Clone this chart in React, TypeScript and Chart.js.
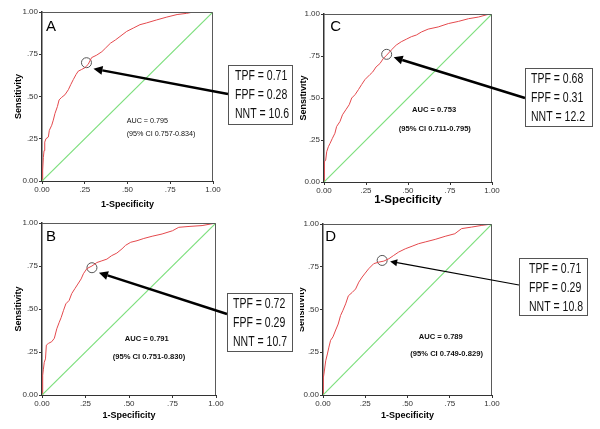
import React, { useEffect, useRef } from "react";
import { Chart, registerables } from "chart.js";

Chart.register(...registerables);

const FONT = "'Liberation Sans', Arial, Helvetica, sans-serif";

// Shared axis ticks
const TICK_VALUES = [0, 0.25, 0.5, 0.75, 1];
const TICK_LABELS = ["0.00", ".25", ".50", ".75", "1.00"];

// Reference (chance) line
const DIAG_X = [0, 1];
const DIAG_Y = [0, 1];

// Panel A
const A_FPF = [0, 0.004, 0.008, 0.012, 0.016, 0.023, 0.037, 0.043, 0.057, 0.066, 0.076, 0.09, 0.1, 0.115, 0.134, 0.154, 0.168, 0.183, 0.199, 0.212, 0.232, 0.25, 0.27, 0.29, 0.32, 0.35, 0.37, 0.4, 0.43, 0.456, 0.495, 0.534, 0.573, 0.61, 0.67, 0.73, 0.79, 0.846, 0.885, 1.0];
const A_TPF = [0, 0.065, 0.14, 0.18, 0.23, 0.25, 0.26, 0.3, 0.33, 0.36, 0.4, 0.44, 0.48, 0.495, 0.51, 0.54, 0.57, 0.6, 0.63, 0.65, 0.66, 0.67, 0.69, 0.73, 0.745, 0.765, 0.785, 0.815, 0.835, 0.855, 0.885, 0.905, 0.925, 0.935, 0.953, 0.97, 0.985, 0.992, 1.0, 1.0];
const A_OP = [0.26, 0.7];
const A_BOX = ["TPF = 0.71", "FPF = 0.28", "NNT = 10.6"];
const A_AUC = ["AUC = 0.795", "(95% CI 0.757-0.834)"];

// Panel C
const C_FPF = [0, 0.002, 0.01, 0.016, 0.026, 0.036, 0.05, 0.065, 0.075, 0.095, 0.11, 0.13, 0.15, 0.165, 0.185, 0.205, 0.224, 0.244, 0.274, 0.29, 0.31, 0.333, 0.353, 0.373, 0.4, 0.43, 0.46, 0.49, 0.52, 0.55, 0.58, 0.62, 0.68, 0.74, 0.8, 0.86, 0.92, 0.97, 1.0];
const C_TPF = [0, 0.12, 0.13, 0.18, 0.21, 0.23, 0.26, 0.29, 0.33, 0.36, 0.4, 0.43, 0.46, 0.5, 0.52, 0.55, 0.58, 0.61, 0.64, 0.655, 0.685, 0.705, 0.735, 0.755, 0.785, 0.815, 0.835, 0.85, 0.865, 0.875, 0.893, 0.91, 0.923, 0.943, 0.956, 0.972, 0.982, 0.996, 1.0];
const C_OP = [0.373, 0.76];
const C_BOX = ["TPF = 0.68", "FPF = 0.31", "NNT = 12.2"];
const C_AUC = ["AUC = 0.753", "(95% CI 0.711-0.795)"];

// Panel B
const B_FPF = [0, 0.004, 0.008, 0.013, 0.02, 0.025, 0.037, 0.056, 0.071, 0.085, 0.098, 0.11, 0.123, 0.137, 0.156, 0.171, 0.19, 0.206, 0.225, 0.238, 0.258, 0.287, 0.315, 0.344, 0.373, 0.4, 0.43, 0.46, 0.48, 0.51, 0.546, 0.585, 0.633, 0.69, 0.75, 0.786, 0.845, 0.92, 1.0];
const B_TPF = [0, 0.115, 0.15, 0.19, 0.21, 0.29, 0.3, 0.31, 0.33, 0.385, 0.42, 0.45, 0.49, 0.53, 0.55, 0.59, 0.62, 0.645, 0.675, 0.705, 0.735, 0.75, 0.77, 0.78, 0.79, 0.81, 0.825, 0.85, 0.87, 0.888, 0.897, 0.91, 0.923, 0.936, 0.955, 0.975, 0.98, 0.985, 1.0];
const B_OP = [0.287, 0.74];
const B_BOX = ["TPF = 0.72", "FPF = 0.29", "NNT = 10.7"];
const B_AUC = ["AUC = 0.791", "(95% CI 0.751-0.830)"];

// Panel D
const D_FPF = [0, 0.002, 0.008, 0.016, 0.026, 0.035, 0.045, 0.059, 0.075, 0.09, 0.104, 0.118, 0.134, 0.15, 0.173, 0.193, 0.212, 0.232, 0.25, 0.27, 0.3, 0.33, 0.36, 0.39, 0.418, 0.448, 0.487, 0.527, 0.566, 0.605, 0.664, 0.723, 0.78, 0.82, 0.88, 0.94, 1.0];
const D_TPF = [0, 0.1, 0.14, 0.2, 0.24, 0.28, 0.32, 0.34, 0.38, 0.415, 0.465, 0.495, 0.533, 0.58, 0.6, 0.62, 0.66, 0.69, 0.713, 0.738, 0.768, 0.777, 0.783, 0.797, 0.816, 0.836, 0.855, 0.87, 0.885, 0.895, 0.91, 0.928, 0.943, 0.973, 0.982, 0.992, 1.0];
const D_OP = [0.35, 0.787];
const D_BOX = ["TPF = 0.71", "FPF = 0.29", "NNT = 10.8"];
const D_AUC = ["AUC = 0.789", "(95% CI 0.749-0.829)"];

type Panel = {
  letter: string;
  pos: [number, number, number, number];
  area: [number, number, number, number];
  fpf: number[];
  tpf: number[];
  op: number[];
  box: string[];
  auc: string[];
  letterOff: [number, number];
  aucWeight: string;
  aucSize: number;
  aucPos: [number, number][];
  boxRect: [number, number, number, number];
  textPad: number;
  tailDy: number;
  tipOff: [number, number];
  arrowW: number;
  head: [number, number];
  yTitlePad: number;
  xTitlePad: number;
  xTitleSize: number;
};

const PANELS: Panel[] = [
  {
    letter: "A", pos: [0, 0, 300, 215], area: [42, 12, 213, 181],
    fpf: A_FPF, tpf: A_TPF, op: A_OP, box: A_BOX, auc: A_AUC,
    letterOff: [4, 18.7], aucWeight: "normal", aucSize: 7.2,
    aucPos: [[126.7, 120.7], [126.7, 133.7]],
    boxRect: [228, 65, 64, 59], textPad: 7, tailDy: 29, tipOff: [7, 6],
    arrowW: 2.4, head: [9, 4.5], yTitlePad: 13.6, xTitlePad: 4.6, xTitleSize: 9,
  },
  {
    letter: "C", pos: [300, 0, 300, 215], area: [24, 14, 192, 182],
    fpf: C_FPF, tpf: C_TPF, op: C_OP, box: C_BOX, auc: C_AUC,
    letterOff: [6.3, 16.5], aucWeight: "bold", aucSize: 7.6,
    aucPos: [[112, 110.3], [98.7, 129.3]],
    boxRect: [225, 68, 67, 58], textPad: 6, tailDy: 30, tipOff: [7, 3],
    arrowW: 2.4, head: [9, 4.5], yTitlePad: -1.4, xTitlePad: 8.4, xTitleSize: 11.5,
  },
  {
    letter: "B", pos: [0, 215, 300, 214], area: [42, 8, 216, 180],
    fpf: B_FPF, tpf: B_TPF, op: B_OP, box: B_BOX, auc: B_AUC,
    letterOff: [4, 18], aucWeight: "bold", aucSize: 7.6,
    aucPos: [[124.7, 124.3], [112.7, 142]],
    boxRect: [227, 78, 65, 58], textPad: 6, tailDy: 21, tipOff: [7, 5],
    arrowW: 2.4, head: [9, 4.5], yTitlePad: 13.6, xTitlePad: 7.6, xTitleSize: 9,
  },
  {
    letter: "D", pos: [300, 215, 300, 214], area: [23, 9, 192, 180],
    fpf: D_FPF, tpf: D_TPF, op: D_OP, box: D_BOX, auc: D_AUC,
    letterOff: [2.3, 17.3], aucWeight: "bold", aucSize: 7.6,
    aucPos: [[118.7, 122.3], [110.3, 139]],
    boxRect: [219, 43, 68, 57], textPad: 10, tailDy: 27, tipOff: [8, 1],
    arrowW: 1.2, head: [7, 3.5], yTitlePad: -3.4, xTitlePad: 7.6, xTitleSize: 9,
  },
];

function annotationPlugin(p: Panel) {
  return {
    id: "annot" + p.letter,
    afterDraw(chart: any) {
      const { ctx, chartArea: ca, scales } = chart;
      ctx.save();
      ctx.strokeStyle = "#5a5a5a";
      ctx.lineWidth = 1;
      ctx.beginPath();
      ctx.moveTo(ca.left, ca.top + 0.5);
      ctx.lineTo(ca.right - 0.5, ca.top + 0.5);
      ctx.lineTo(ca.right - 0.5, ca.bottom);
      ctx.stroke();

      ctx.fillStyle = "#000";
      ctx.textAlign = "left";
      ctx.textBaseline = "alphabetic";
      ctx.font = `15px ${FONT}`;
      ctx.fillText(p.letter, ca.left + p.letterOff[0], ca.top + p.letterOff[1]);

      ctx.font = `${p.aucWeight} ${p.aucSize}px ${FONT}`;
      ctx.textBaseline = "middle";
      ctx.fillStyle = "#111";
      p.auc.forEach((t, i) => ctx.fillText(t, p.aucPos[i][0], p.aucPos[i][1]));

      const cx = scales.x.getPixelForValue(p.op[0]);
      const cy = scales.y.getPixelForValue(p.op[1]);
      const tipX = cx + p.tipOff[0];
      const tipY = cy + p.tipOff[1];
      const [bx, by, bw, bh] = p.boxRect;
      const tailX = bx;
      const tailY = by + p.tailDy;
      const ang = Math.atan2(tipY - tailY, tipX - tailX);
      const [hl, hw] = p.head;
      const baseX = tipX - hl * Math.cos(ang);
      const baseY = tipY - hl * Math.sin(ang);
      ctx.strokeStyle = "#000";
      ctx.fillStyle = "#000";
      ctx.lineWidth = p.arrowW;
      ctx.beginPath();
      ctx.moveTo(tailX, tailY);
      ctx.lineTo(baseX, baseY);
      ctx.stroke();
      ctx.beginPath();
      ctx.moveTo(tipX, tipY);
      ctx.lineTo(baseX - hw * Math.sin(ang), baseY + hw * Math.cos(ang));
      ctx.lineTo(baseX + hw * Math.sin(ang), baseY - hw * Math.cos(ang));
      ctx.closePath();
      ctx.fill();

      ctx.fillStyle = "#fff";
      ctx.fillRect(bx, by, bw, bh);
      ctx.strokeStyle = "#555";
      ctx.lineWidth = 1;
      ctx.strokeRect(bx + 0.5, by + 0.5, bw, bh);
      ctx.fillStyle = "#111";
      ctx.font = `14px ${FONT}`;
      ctx.textBaseline = "middle";
      p.box.forEach((t, i) => {
        ctx.save();
        ctx.translate(bx + p.textPad, by + 11 + i * 19);
        ctx.scale(0.75, 1);
        ctx.fillText(t, 0, 0);
        ctx.restore();
      });
      ctx.restore();
    },
  };
}

function RocPanel({ p }: { p: Panel }) {
  const ref = useRef<HTMLCanvasElement | null>(null);
  useEffect(() => {
    if (!ref.current) return;
    const [, , w, h] = p.pos;
    const [al, at, ar, ab] = p.area;
    const tickFont = { size: 8, family: FONT };
    const setTicks = (s: any) => {
      s.ticks = TICK_VALUES.map((v) => ({ value: v }));
    };
    const label = (v: any) => {
      const i = TICK_VALUES.indexOf(Number(v));
      return i >= 0 ? TICK_LABELS[i] : "";
    };
    const chart = new Chart(ref.current, {
      type: "line",
      data: {
        datasets: [
          {
            data: DIAG_X.map((x, i) => ({ x, y: DIAG_Y[i] })),
            borderColor: "#7ddf7d",
            borderWidth: 1.2,
            pointRadius: 0,
            fill: false,
          },
          {
            data: p.fpf.map((x, i) => ({ x, y: p.tpf[i] })),
            borderColor: "#e4494d",
            borderWidth: 1,
            pointRadius: 0,
            fill: false,
            tension: 0,
          },
          {
            data: [{ x: p.op[0], y: p.op[1] }],
            showLine: false,
            pointRadius: 5,
            pointBorderWidth: 1,
            pointBorderColor: "#555",
            pointBackgroundColor: "rgba(0,0,0,0)",
          },
        ],
      },
      options: {
        responsive: false,
        animation: false,
        devicePixelRatio: 1,
        layout: { padding: { left: 0, top: at, right: w - ar, bottom: 0 } },
        plugins: { legend: { display: false }, tooltip: { enabled: false } },
        scales: {
          x: {
            type: "linear",
            min: 0,
            max: 1,
            afterBuildTicks: setTicks,
            afterFit: (s: any) => {
              s.height = h - ab;
            },
            ticks: { callback: label, font: tickFont, color: "#333", padding: 1, maxRotation: 0, autoSkip: false },
            grid: { drawOnChartArea: false, drawTicks: true, tickLength: 3, color: "#333" },
            border: { display: true, color: "#333", width: 1 },
            title: {
              display: true,
              text: "1-Specificity",
              color: "#000",
              font: { size: p.xTitleSize, weight: "bold", family: FONT },
              padding: { top: 0, bottom: p.xTitlePad },
            },
          },
          y: {
            type: "linear",
            min: 0,
            max: 1,
            afterBuildTicks: setTicks,
            afterFit: (s: any) => {
              s.width = al;
            },
            ticks: { callback: label, font: tickFont, color: "#333", padding: 1, autoSkip: false },
            grid: { drawOnChartArea: false, drawTicks: true, tickLength: 3, color: "#333" },
            border: { display: true, color: "#333", width: 1.5 },
            title: {
              display: true,
              text: "Sensitivity",
              color: "#000",
              font: { size: 9, weight: "bold", family: FONT },
              padding: { top: p.yTitlePad, bottom: 0 },
            },
          },
        },
      },
      plugins: [annotationPlugin(p)],
    } as any);
    return () => chart.destroy();
  }, [p]);
  const [l, t, w, h] = p.pos;
  return (
    <canvas
      ref={ref}
      width={w}
      height={h}
      style={{ position: "absolute", left: l, top: t, width: w, height: h }}
    />
  );
}

export default function App() {
  return (
    <div style={{ position: "absolute", left: 0, top: 0, width: 600, height: 429, background: "#fff", overflow: "hidden" }}>
      {PANELS.map((p) => (
        <RocPanel key={p.letter} p={p} />
      ))}
    </div>
  );
}
